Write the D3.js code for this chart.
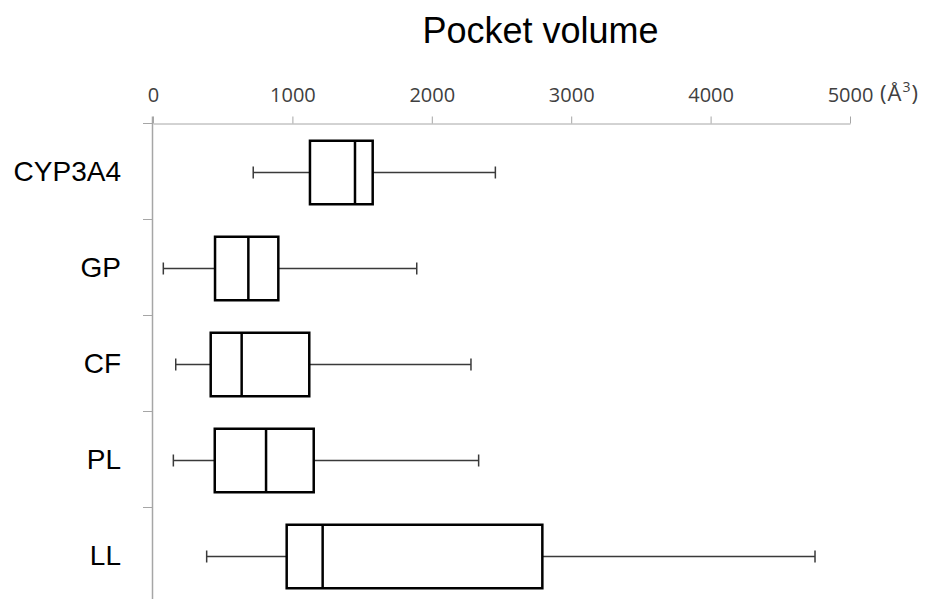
<!DOCTYPE html>
<html>
<head>
<meta charset="utf-8">
<script src="https://cdn.jsdelivr.net/npm/d3@7"></script>
<style>
  html, body { margin: 0; padding: 0; background: #fff; }
  svg { display: block; }
</style>
</head>
<body>
<svg id="chart" width="932" height="599"></svg>
<script>
// Pocket volume distributions per protein family (Å³)
const categories = ["CYP3A4", "GP", "CF", "PL", "LL"];
const whiskerLow  = [719, 74, 163, 146, 385];
const quartile1   = [1126, 445, 414, 443, 959];
const medians     = [1449, 684, 636, 811, 1217];
const quartile3   = [1576, 899, 1121, 1153, 2793];
const whiskerHigh = [2456, 1892, 2281, 2336, 4749];
const tickValues  = [0, 1000, 2000, 3000, 4000, 5000];

const svg = d3.select("#chart");

const x = d3.scaleLinear().domain([0, 5000]).range([153, 850]);
const y = d3.scaleBand().domain(categories).range([123.5, 603.5]).padding(0);

const axisColor = "#a6a6a6";

// Title
svg.append("text")
  .attr("x", 540.5).attr("y", 43)
  .attr("text-anchor", "middle")
  .attr("font-family", "Liberation Sans, Arial, sans-serif")
  .attr("font-size", 36)
  .attr("fill", "#000")
  .text("Pocket volume");

// Top value axis
const xAxis = d3.axisTop(x)
  .tickValues(tickValues)
  .tickSize(7)
  .tickSizeOuter(0)
  .tickPadding(15)
  .tickFormat(d3.format("d"));

const gx = svg.append("g")
  .attr("transform", "translate(0,123.5)")
  .call(xAxis);
gx.select(".domain").attr("stroke", axisColor).attr("stroke-width", 1);
gx.selectAll(".tick line").attr("stroke", axisColor).attr("stroke-width", 1);
gx.selectAll(".tick text")
  .attr("font-family", "Open Sans, sans-serif")
  .attr("font-size", 20)
  .attr("fill", "#404040");

// Unit label after the last tick
const unit = svg.append("text")
  .attr("x", 880).attr("y", 100.5)
  .attr("font-family", "Open Sans, sans-serif")
  .attr("font-size", 22)
  .attr("letter-spacing", 1)
  .attr("fill", "#404040");
unit.append("tspan").text("(Å");
unit.append("tspan").attr("font-size", 14).attr("dy", -9).text("3");
unit.append("tspan").attr("dy", 9).text(")");

// Left category axis with separators between bands
const boundaries = categories.map(c => y(c));
svg.append("line")
  .attr("x1", 152.5).attr("x2", 152.5)
  .attr("y1", 116.5).attr("y2", 603.5)
  .attr("stroke", axisColor).attr("stroke-width", 1.5);
svg.selectAll("line.sep")
  .data(boundaries)
  .join("line")
  .attr("class", "sep")
  .attr("x1", 143).attr("x2", 152.5)
  .attr("y1", d => Math.round(d) - 0.5).attr("y2", d => Math.round(d) - 0.5)
  .attr("stroke", axisColor).attr("stroke-width", 1);

// Category labels
svg.selectAll("text.cat")
  .data(categories)
  .join("text")
  .attr("class", "cat")
  .attr("x", 121)
  .attr("y", d => y(d) + y.bandwidth() / 2 + 9.5)
  .attr("text-anchor", "end")
  .attr("font-family", "Liberation Sans, Arial, sans-serif")
  .attr("font-size", 28)
  .attr("fill", "#000")
  .text(d => d);

// Box plots
const boxH = 63.5;
const capH = 12;
const rows = categories.map((c, i) => ({
  cat: c,
  lo: whiskerLow[i], q1: quartile1[i], med: medians[i], q3: quartile3[i], hi: whiskerHigh[i]
}));

const g = svg.selectAll("g.box").data(rows).join("g").attr("class", "box")
  .attr("transform", d => `translate(0,${y(d.cat) + y.bandwidth() / 2 + 1})`);

const whiskerColor = "#3a3a3a";
// whisker lines
g.append("line")
  .attr("x1", d => x(d.lo)).attr("x2", d => x(d.q1))
  .attr("y1", 0).attr("y2", 0)
  .attr("stroke", whiskerColor).attr("stroke-width", 1.5);
g.append("line")
  .attr("x1", d => x(d.q3)).attr("x2", d => x(d.hi))
  .attr("y1", 0).attr("y2", 0)
  .attr("stroke", whiskerColor).attr("stroke-width", 1.5);
// caps
g.append("line")
  .attr("x1", d => x(d.lo)).attr("x2", d => x(d.lo))
  .attr("y1", -capH / 2).attr("y2", capH / 2)
  .attr("stroke", whiskerColor).attr("stroke-width", 1.5);
g.append("line")
  .attr("x1", d => x(d.hi)).attr("x2", d => x(d.hi))
  .attr("y1", -capH / 2).attr("y2", capH / 2)
  .attr("stroke", whiskerColor).attr("stroke-width", 1.5);
// box
g.append("rect")
  .attr("x", d => x(d.q1))
  .attr("y", -boxH / 2)
  .attr("width", d => x(d.q3) - x(d.q1))
  .attr("height", boxH)
  .attr("fill", "#fff")
  .attr("stroke", "#000")
  .attr("stroke-width", 2.5);
// median
g.append("line")
  .attr("x1", d => x(d.med)).attr("x2", d => x(d.med))
  .attr("y1", -boxH / 2).attr("y2", boxH / 2)
  .attr("stroke", "#000").attr("stroke-width", 2.5);
</script>
</body>
</html>
